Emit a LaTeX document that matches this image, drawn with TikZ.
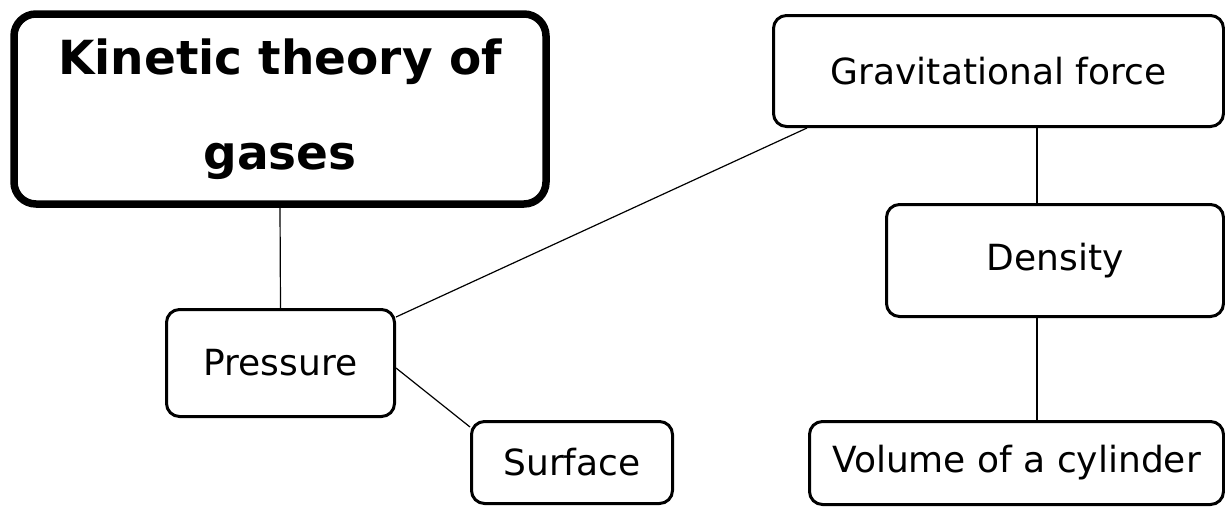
\documentclass[tikz,border=0pt]{standalone}
\usepackage{fontspec}
\setmainfont{DejaVu Sans}
\usetikzlibrary{positioning}

\tikzset{
  topic/.style={draw,line width=7.5pt,rounded corners=22pt,align=center,
    minimum width=532pt,minimum height=190pt,
    font=\fontsize{47}{95}\selectfont\bfseries},
  concept/.style={draw,line width=3pt,rounded corners=13pt,
    font=\fontsize{36}{40}\selectfont},
  link/.style={line width=1.2pt}
}

\begin{document}
\begin{tikzpicture}[x=1pt,y=-1pt]
  \useasboundingbox (0,0) rectangle (1225,506);

  % main topic
  \node[topic] (kin) at (280,109) {Kinetic theory of\\gases};

  % left branch
  \node[concept,minimum width=228pt,minimum height=107pt] (pres) at (280.5,363) {Pressure};
  \node[concept,minimum width=201pt,minimum height=82pt] (surf) at (572,462.5) {Surface};

  % right branch
  \node[concept,minimum width=450pt,minimum height=111pt] (grav) at (998.5,71) {Gravitational force};
  \node[concept,minimum width=337pt,minimum height=112pt] (dens) at (1055,260.5) {Density};
  \node[concept,minimum width=414pt,minimum height=83pt] (vol) at (1016.5,463) {Volume of a cylinder};

  \draw[link] (kin.south) -- (pres.north);
  \draw[link] ([yshift=-9pt]pres.north east) -- ([xshift=35pt]grav.south west);
  \draw[link] ([yshift=-5pt]pres.east) -- ([yshift=-7pt]surf.north west);
  \draw[link] ([xshift=38.5pt]grav.south) -- ([xshift=-18pt]dens.north);
  \draw[link] ([xshift=-18pt]dens.south) -- ([xshift=20.5pt]vol.north);
\end{tikzpicture}
\end{document}
